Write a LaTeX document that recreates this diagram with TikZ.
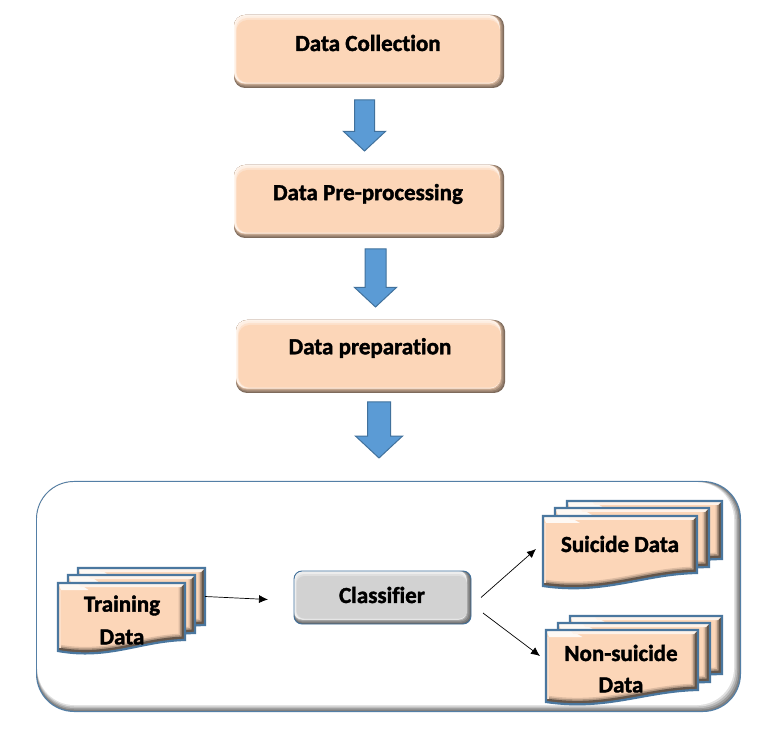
\documentclass[tikz,border=0pt]{standalone}
\usepackage{fontspec}
\setmainfont[Ligatures={NoCommon},BoldFeatures={FakeBold=1.6}]{Carlito}
\usetikzlibrary{calc,shapes.arrows,arrows.meta}
\definecolor{peach}{HTML}{FCD6B8}
\definecolor{arrowblue}{HTML}{5B9BD5}
\definecolor{edgeblue}{HTML}{41719C}
\definecolor{sheetblue}{HTML}{4A779F}
\definecolor{boxgrey}{HTML}{D2D2D2}
\newcommand\bevelfills[2]{%
  \foreach \l/\t/\r/\b/\c in {0/0/1.2/1.2/#1!60!black,0/0/2.4/2.4/#1!72!black,0/0/3.6/3.6/#1!88!black,0/0/4.5/4.5/#1!25!white,1/1/4.5/4.5/#1!40!white,2/3/4.5/5/#1!70!white,2.5/5/4/5.5/#1}{%
    \fill[fill=\c,rounded corners=#2]
      ($(path picture bounding box.south west)+(\l pt,\b pt)$) rectangle
      ($(path picture bounding box.north east)-(\r pt,\t pt)$);
  }%
}
\tikzset{
  x=1pt,y=-1pt,
  bevelbox/.style 2 args={rectangle,rounded corners=#2,inner sep=0pt,outer sep=0pt,
    fill=#1!50!black,path picture={\bevelfills{#1}{#2}}},
  stepbox/.style={bevelbox={peach}{11pt},minimum width=270pt,minimum height=73pt},
  classbox/.style={bevelbox={boxgrey}{8pt},draw=edgeblue,line width=.9pt,minimum width=177pt,minimum height=53pt},
  panel/.style={rectangle,rounded corners=38pt,inner sep=0pt,minimum width=705pt,minimum height=231pt,
    fill=edgeblue!90!white,path picture={
      \foreach \l/\t/\r/\b/\c in {1.2/1.2/1.2/1.2/black!50,1.2/1.2/2.5/2.5/black!38,1.2/1.2/4/4/black!25,1.2/1.2/5.5/5.5/black!12,1.2/1.2/7/7/white}{%
        \fill[fill=\c,rounded corners=37pt]
          ($(path picture bounding box.south west)+(\l pt,\b pt)$) rectangle
          ($(path picture bounding box.north east)-(\r pt,\t pt)$);
      }}},
  blockarrow/.style={single arrow,rotate=-90,anchor=tip,draw=edgeblue,line width=1pt,fill=arrowblue,inner xsep=0pt,outer sep=0pt,
    single arrow head indent=0pt},
  label text/.style={font=\fontsize{23pt}{25pt}\selectfont\bfseries,text=black,inner sep=0pt},
  flow/.style={-{Latex[length=9pt,width=8pt]},line width=.7pt,black},
  sheet anchor/.style={rectangle,inner sep=0pt,outer sep=0pt},
}
% #1 x1, #2 y1, #3 x2, #4 y at right bottom, #5 y at left bottom
\newcommand\sheet[5]{%
  \def\sheetpath{(#1,#2) -- (#3,#2) -- (#3,#4)
     .. controls ({#3-0.35*(#3-#1)},{#4+1}) and ({#1+0.40*(#3-#1)},{#5+9}) .. (#1,#5) -- cycle}%
  \begin{scope}
    \clip \sheetpath;
    \fill[peach] \sheetpath;
    \draw[peach!88!black,line width=13pt] ({#1},{#5}) .. controls ({#1+0.40*(#3-#1)},{#5+9}) and ({#3-0.35*(#3-#1)},{#4+1}) .. (#3,#4) -- (#3,#2);
    \draw[peach!70!black,line width=10pt] ({#1},{#5}) .. controls ({#1+0.40*(#3-#1)},{#5+9}) and ({#3-0.35*(#3-#1)},{#4+1}) .. (#3,#4) -- (#3,#2);
    \draw[black!60!peach,line width=7pt] ({#1},{#5}) .. controls ({#1+0.40*(#3-#1)},{#5+9}) and ({#3-0.35*(#3-#1)},{#4+1}) .. (#3,#4) -- (#3,#2);
    \fill[peach!15!white] (#1,#2) -- ({#1+0.16*(#3-#1)},#2) -- ({#1+0.24*(#3-#1)},{#2+7}) -- ({#1+3},{#2+7}) -- cycle;
    \fill[peach!30!white] ({#1+0.16*(#3-#1)},#2) -- ({#3},#2) -- ({#3-4},{#2+4}) -- ({#1+0.18*(#3-#1)},{#2+4}) -- cycle;
    \fill[peach!75!white] (#1,{#2+7}) rectangle ({#1+3},{#5-3});
  \end{scope}
  \draw[sheetblue,line width=2.2pt,line join=miter] \sheetpath;
}
\begin{document}
\begin{tikzpicture}
\useasboundingbox (0,0) rectangle (764,735);
\fill[white] (0,0) rectangle (764,735);
% process boxes
\node[stepbox] (collect) at (369,51.5) {};
\node[stepbox] (prep) at (369,201.5) {};
\node[stepbox,minimum width=269pt] (prepare) at (370.5,356.5) {};
\node[label text] (collectT) at (368,43) {Data Collection};
\node[label text] (prepT) at (368,194) {Data Pre-processing};
\node[label text] (prepareT) at (370,348) {Data preparation};
% block arrows
\node[blockarrow,inner ysep=9.5pt,minimum height=51pt,minimum width=41pt,single arrow head extend=11pt,single arrow tip angle=94] (a1) at (364.5,151) {};
\node[blockarrow,inner ysep=10pt,minimum height=58pt,minimum width=41pt,single arrow head extend=10.5pt,single arrow tip angle=94] (a2) at (375.5,307) {};
\node[blockarrow,inner ysep=11pt,minimum height=56pt,minimum width=46pt,single arrow head extend=12pt,single arrow tip angle=94] (a3) at (379,458) {};
% lower panel
\node[panel] (panel) at (388.5,596.5) {};
\node[classbox] (classifier) at (382.5,597.5) {};
\node[label text] (classifierT) at (382,595) {Classifier};
% training stack
\sheet{78}{568}{205}{625}{632}
\sheet{68}{575}{195}{633}{640}
\sheet{58}{583}{185}{640}{651}
\node[sheet anchor,minimum width=127pt,minimum height=57pt] (training) at (141.5,596.5) {};
\node[label text] (trainingA) at (122,605.5) {Training};
\node[label text] (trainingB) at (122,637) {Data};
% suicide stack
\sheet{567}{501}{722}{559}{565}
\sheet{555}{508}{709}{567}{573}
\sheet{543}{516}{697}{573}{586}
\node[label text] (suicideT) at (620,544) {Suicide Data};
% non-suicide stack
\sheet{570}{616}{722}{674}{680}
\sheet{558}{623}{710}{682}{688}
\sheet{546}{630}{698}{690}{702}
\node[label text] (nonA) at (621,653) {Non-suicide};
\node[label text] (nonB) at (621,685) {Data};
% thin connectors
\coordinate (trainEnd) at (268,599.5);
\coordinate (c1) at ($(classifier.east)+(10pt,0pt)$);
\coordinate (c2) at ($(classifier.east)+(12pt,-15.5pt)$);
\coordinate (sEnd) at (536,549);
\coordinate (nEnd) at (540,656);
\draw[flow] (training.east) -- (trainEnd);
\draw[flow] (c1) -- (sEnd);
\draw[flow] (c2) -- (nEnd);
\end{tikzpicture}
\end{document}
